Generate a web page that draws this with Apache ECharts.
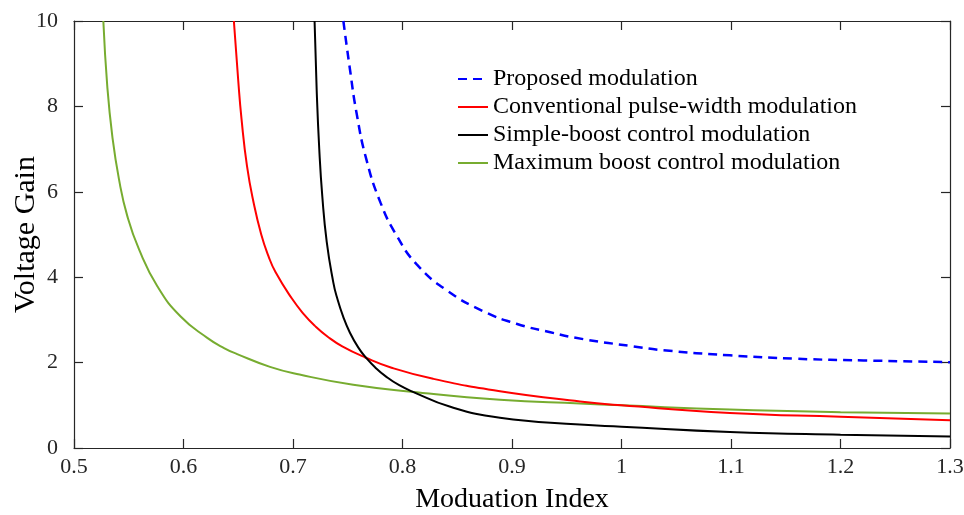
<!DOCTYPE html>
<html>
<head>
<meta charset="utf-8">
<script src="https://cdn.jsdelivr.net/npm/echarts@6/dist/echarts.min.js"></script>
<style>
html,body{margin:0;padding:0;background:#fff;}
#chart{width:964px;height:515px;}
</style>
</head>
<body>
<div id="chart"></div>
<script>
// Series names
var seriesNames = [
  'Proposed modulation',
  'Conventional pulse-width modulation',
  'Simple-boost control modulation',
  'Maximum boost control modulation'
];

// Proposed modulation (blue dashed)
var proposedM = [0.746, 0.752, 0.758, 0.767, 0.780, 0.795, 0.813, 0.840, 0.874, 0.904, 0.935, 0.965, 1.011, 1.038, 1.099, 1.160, 1.221, 1.300];
var proposedG = [10.0, 8.87, 7.85, 6.76, 5.74, 4.96, 4.30, 3.70, 3.20, 2.91, 2.71, 2.55, 2.38, 2.29, 2.17, 2.09, 2.05, 2.01];

// Conventional PWM (red)
var conventionalM = [0.646, 0.650, 0.653, 0.658, 0.664, 0.671, 0.6775, 0.684, 0.699, 0.710, 0.720, 0.732, 0.745, 0.766, 0.790, 0.828, 0.889, 0.962, 1.000, 1.099, 1.200, 1.300];
var conventionalG = [10.0, 8.60, 7.70, 6.60, 5.75, 5.00, 4.50, 4.12, 3.50, 3.13, 2.86, 2.60, 2.38, 2.12, 1.88, 1.62, 1.33, 1.09, 1.00, 0.82, 0.73, 0.65];

// Simple-boost control (black)
var simpleM = [0.7197, 0.7216, 0.724, 0.7268, 0.7308, 0.7368, 0.740, 0.7459, 0.752, 0.7597, 0.7665, 0.7749, 0.7856, 0.797, 0.810, 0.843, 0.889, 0.962, 1.000, 1.099, 1.200, 1.300];
var simpleG = [10.0, 8.40, 6.99, 5.88, 4.83, 3.88, 3.54, 3.07, 2.70, 2.35, 2.12, 1.89, 1.66, 1.47, 1.31, 0.97, 0.71, 0.55, 0.50, 0.375, 0.31, 0.27];

// Maximum boost control (green)
var maxBoostM = [0.5268, 0.5304, 0.535, 0.5411, 0.5487, 0.5594, 0.5761, 0.5974, 0.6217, 0.637, 0.649, 0.679, 0.706, 0.755, 0.808, 0.889, 0.962, 1.000, 1.099, 1.200, 1.300];
var maxBoostG = [10.0, 8.47, 7.30, 6.29, 5.43, 4.65, 3.79, 3.08, 2.58, 2.34, 2.20, 1.90, 1.72, 1.48, 1.32, 1.13, 1.04, 1.00, 0.90, 0.84, 0.81];

// Axis ticks
var xTicks = [0.5, 0.6, 0.7, 0.8, 0.9, 1, 1.1, 1.2, 1.3];
var yTicks = [0, 2, 4, 6, 8, 10];

function pairs(xs, ys) {
  return xs.map(function (x, i) { return [x, ys[i]]; });
}

var FONT = "'Liberation Serif', 'Times New Roman', serif";
var AXIS_COLOR = '#262626';

var chart = echarts.init(document.getElementById('chart'), null, { renderer: 'canvas' });

function baseAxisStyle() {
  return {
    axisLine: { show: true, onZero: false, lineStyle: { color: AXIS_COLOR, width: 1.2 } },
    axisTick: { show: true, inside: true, length: 9, lineStyle: { color: AXIS_COLOR, width: 1.2 } },
    splitLine: { show: false }
  };
}

function lineSeries(idx, xs, ys, color, dashed, z) {
  return {
    name: seriesNames[idx], type: 'line', xAxisIndex: 0, yAxisIndex: 0,
    data: pairs(xs, ys),
    symbol: 'none', smooth: 0.5, clip: true,
    lineStyle: { color: color, width: dashed ? 2.5 : 2, type: dashed ? [9, 6] : 'solid' },
    itemStyle: { color: color },
    z: z
  };
}

var option = {
  backgroundColor: '#ffffff',
  animation: false,
  grid: { left: 74, top: 21, right: 14, bottom: 67, containLabel: false, outerBoundsMode: 'none' },
  legend: {
    orient: 'vertical',
    left: 452,
    top: 62,
    itemWidth: 30,
    itemHeight: 14,
    itemGap: 4,
    itemStyle: { opacity: 0 },
    textStyle: { fontFamily: FONT, fontSize: 24, color: '#000', lineHeight: 24 },
    data: seriesNames
  },
  xAxis: [
    Object.assign({
      type: 'value',
      position: 'bottom',
      min: 0.5, max: 1.3, interval: 0.1,
      name: 'Moduation Index',
      nameLocation: 'middle',
      nameGap: 38,
      nameMoveOverlap: false,
      nameTextStyle: { fontFamily: FONT, fontSize: 28, color: '#000' },
      axisLabel: {
        fontFamily: FONT, fontSize: 22, color: '#262626', margin: 8,
        formatter: function (v) {
          var r = Math.round(v * 10) / 10;
          return xTicks.indexOf(r) >= 0 ? String(r) : '';
        }
      }
    }, baseAxisStyle()),
    Object.assign({
      type: 'value',
      position: 'top',
      min: 0.5, max: 1.3, interval: 0.1,
      axisLabel: { show: false }
    }, baseAxisStyle())
  ],
  yAxis: [
    Object.assign({
      type: 'value',
      position: 'left',
      min: 0, max: 10, interval: 2,
      name: 'Voltage Gain',
      nameLocation: 'middle',
      nameGap: 33,
      nameMoveOverlap: false,
      nameTextStyle: { fontFamily: FONT, fontSize: 30, color: '#000' },
      axisLabel: {
        fontFamily: FONT, fontSize: 22, color: '#262626', margin: 16,
        formatter: function (v) { return yTicks.indexOf(v) >= 0 ? String(v) : ''; }
      }
    }, baseAxisStyle()),
    Object.assign({
      type: 'value',
      position: 'right',
      min: 0, max: 10, interval: 2,
      axisLabel: { show: false }
    }, baseAxisStyle())
  ],
  series: [
    lineSeries(0, proposedM, proposedG, '#0000ff', true, 5),
    lineSeries(1, conventionalM, conventionalG, '#ff0000', false, 3),
    lineSeries(2, simpleM, simpleG, '#000000', false, 4),
    lineSeries(3, maxBoostM, maxBoostG, '#77ac30', false, 2)
  ]
};

chart.setOption(option);
</script>
</body>
</html>
